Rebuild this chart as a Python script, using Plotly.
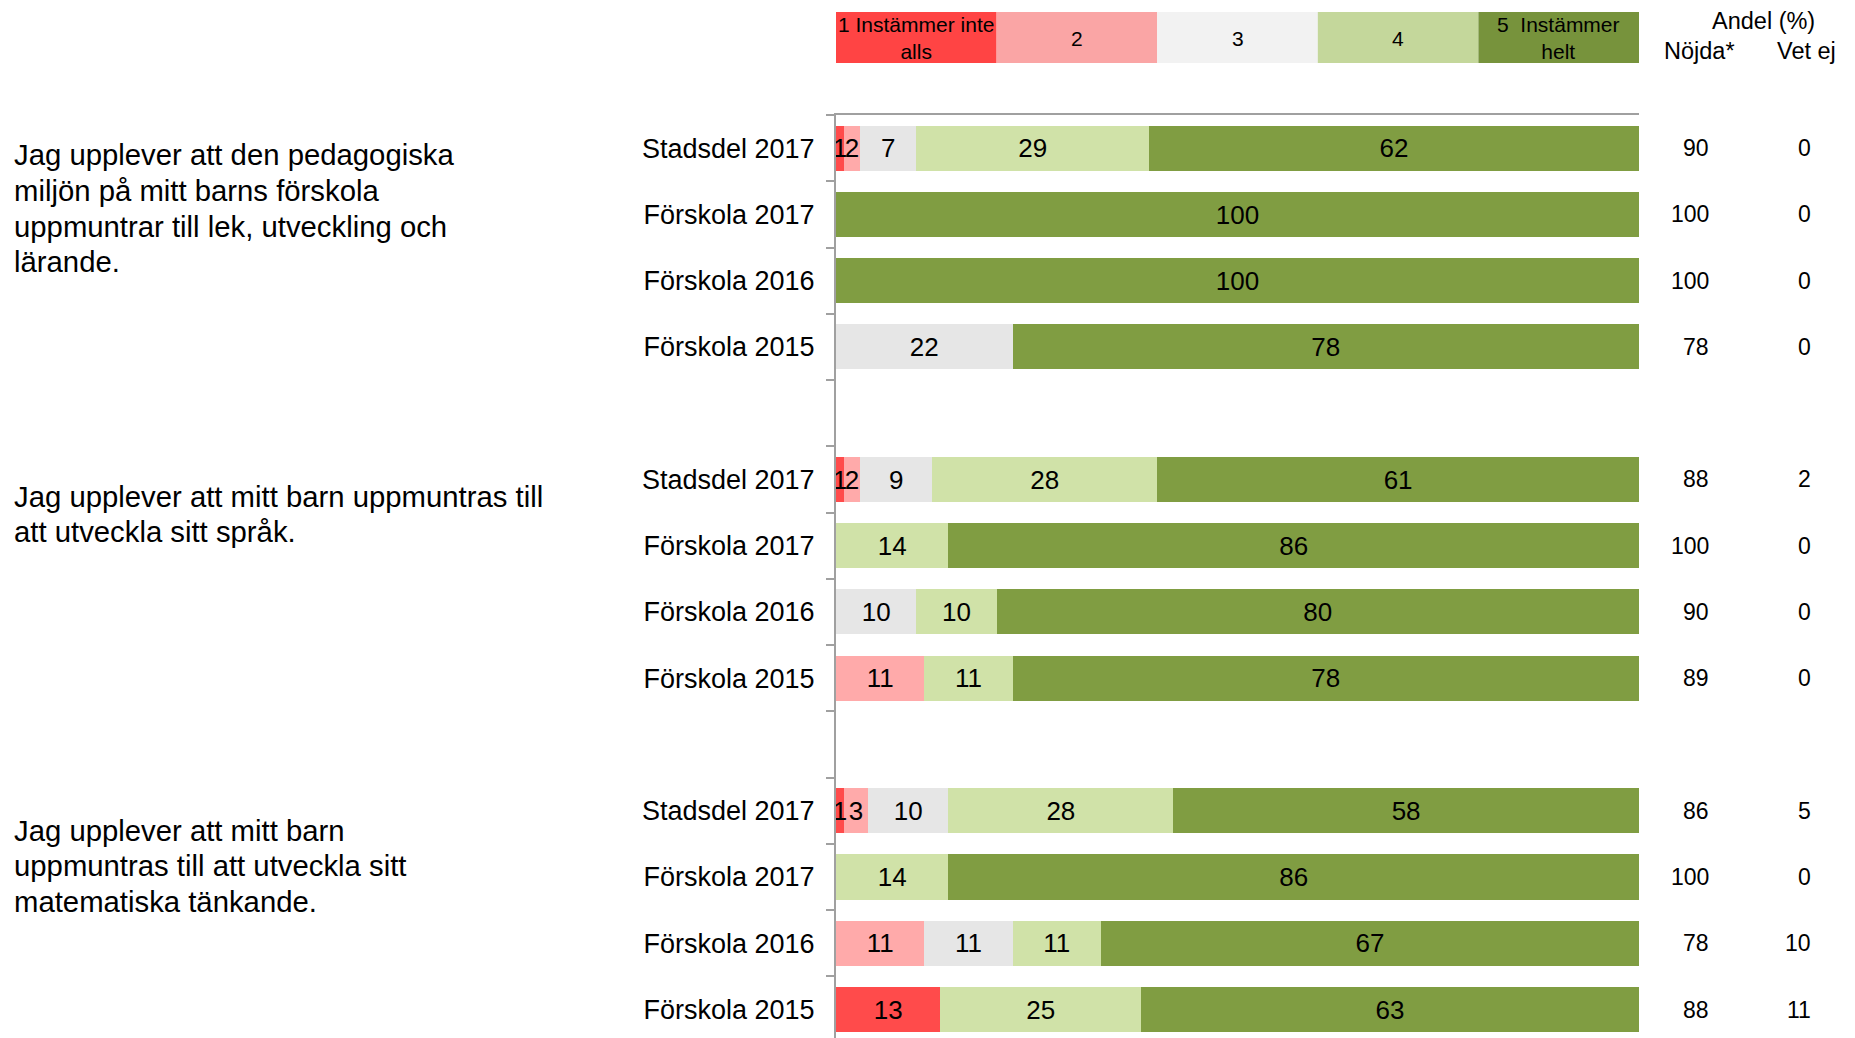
import plotly.graph_objects as go

# Survey answers per row (percent per response level 1..5)
row_labels = ["Stadsdel 2017", "Förskola 2017", "Förskola 2016", "Förskola 2015"] * 3
level_1 = [1, 0, 0, 0, 1, 0, 0, 0, 1, 0, 0, 13]
level_2 = [2, 0, 0, 0, 2, 0, 0, 11, 3, 0, 11, 0]
level_3 = [7, 0, 0, 22, 9, 0, 10, 0, 10, 0, 11, 0]
level_4 = [29, 0, 0, 0, 28, 14, 10, 11, 28, 14, 11, 25]
level_5 = [62, 100, 100, 78, 61, 86, 80, 78, 58, 86, 67, 63]
nojda = [90, 100, 100, 78, 88, 100, 90, 89, 86, 100, 78, 88]
vet_ej = [0, 0, 0, 0, 2, 0, 0, 0, 5, 0, 10, 11]

questions = [
    ["Jag upplever att den pedagogiska", "miljön på mitt barns förskola",
     "uppmuntrar till lek, utveckling och", "lärande."],
    ["Jag upplever att mitt barn uppmuntras till", "att utveckla sitt språk."],
    ["Jag upplever att mitt barn", "uppmuntras till att utveckla sitt",
     "matematiska tänkande."],
]
legend_labels = ["1 Instämmer inte<br>alls", "2", "3", "4", "5  Instämmer<br>helt"]

bar_colors = ["#FF4B4B", "#FFAAAA", "#E6E6E6", "#D0E2A8", "#809D42"]
legend_colors = ["#FF4444", "#FAA5A5", "#F2F2F2", "#C4D79B", "#77933C"]

FONT = "Liberation Sans, Arial, sans-serif"
W, H = 1855, 1038
ML, MR, MT, MB = 836, 216, 115, 0
PW, PH = W - ML - MR, H - MT - MB
X_MAX = 100

# row slots: four rows per question, one empty slot between questions
ypos = [g * 5 + i for g in range(3) for i in range(4)]


def px_x(px):
    return (px - ML) / PW


def px_y(py):
    return (H - py) / PH


fig = go.Figure()
levels = [level_1, level_2, level_3, level_4, level_5]
for k, vals in enumerate(levels):
    fig.add_trace(go.Bar(
        x=vals, y=ypos, orientation="h", width=0.68,
        marker=dict(color=bar_colors[k], line=dict(width=0)),
        hoverinfo="skip", showlegend=False,
    ))

# segment labels, centred on the visible part of each segment
TEXT_DROP = 0.04  # small downward nudge so digits sit optically centred
lab_x, lab_y, lab_t = [], [], []
for r, yp in enumerate(ypos):
    start = 0
    for vals in levels:
        v = vals[r]
        end = start + v
        if v > 0:
            lab_x.append((start + min(end, X_MAX)) / 2)
            lab_y.append(yp + TEXT_DROP)
            lab_t.append(str(v))
        start = end
fig.add_trace(go.Scatter(
    x=lab_x, y=lab_y, text=lab_t, mode="text", textposition="middle center",
    textfont=dict(family=FONT, size=26, color="black"),
    cliponaxis=False, hoverinfo="skip", showlegend=False,
))

annotations = []
shapes = []

# response scale header boxes
for k, lab in enumerate(legend_labels):
    shapes.append(dict(type="rect", xref="paper", yref="paper",
                       x0=k / 5, x1=(k + 1) / 5, y0=px_y(63), y1=px_y(12),
                       fillcolor=legend_colors[k], line=dict(width=0), layer="below"))
    annotations.append(dict(xref="paper", yref="paper", x=(k + 0.5) / 5, y=px_y(38),
                            text=lab, showarrow=False, xanchor="center", yanchor="middle",
                            font=dict(family=FONT, size=21, color="black")))

# right-hand column headers
headers = [("Andel (%)", 1763, 21), ("Nöjda*", 1699, 51), ("Vet ej", 1806, 51)]
for txt, hx, hy in headers:
    annotations.append(dict(xref="paper", yref="paper", x=px_x(hx), y=px_y(hy), text=txt,
                            showarrow=False, xanchor="center", yanchor="middle",
                            font=dict(family=FONT, size=23.5, color="black")))

# right-hand value columns
for yp, n, v in zip(ypos, nojda, vet_ej):
    annotations.append(dict(xref="paper", yref="y", x=px_x(1711), y=yp, text=str(n),
                            showarrow=False, xanchor="right", yanchor="middle",
                            font=dict(family=FONT, size=23, color="black")))
    annotations.append(dict(xref="paper", yref="y", x=px_x(1813), y=yp, text=str(v),
                            showarrow=False, xanchor="right", yanchor="middle",
                            font=dict(family=FONT, size=23, color="black")))

# question texts, one line at a time
first_line_y = [155, 496, 830]
for lines, y0 in zip(questions, first_line_y):
    for i, line in enumerate(lines):
        annotations.append(dict(xref="paper", yref="paper", x=px_x(12), y=px_y(y0 + i * 35.5),
                                text=line, showarrow=False, xanchor="left", yanchor="middle",
                                font=dict(family=FONT, size=29.3, color="black")))

fig.update_layout(
    width=W, height=H, barmode="stack",
    margin=dict(l=ML, r=MR, t=MT, b=MB, pad=0),
    paper_bgcolor="white", plot_bgcolor="white",
    font=dict(family=FONT, color="black"),
    xaxis=dict(range=[0, X_MAX], side="top", showline=True, linecolor="#A0A0A0", linewidth=2,
               showticklabels=False, ticks="", showgrid=False, zeroline=False, fixedrange=True),
    yaxis=dict(range=[13.43, -0.5], tickmode="array", tickvals=ypos, ticktext=row_labels,
               ticks="", ticklabelstandoff=14, showline=True, linecolor="#A0A0A0", linewidth=2,
               showgrid=False, zeroline=False,
               tickfont=dict(family=FONT, size=27, color="black"),
               minor=dict(tickmode="array", tickvals=[k - 0.5 for k in range(15)],
                          ticks="outside", ticklen=8, tickwidth=2, tickcolor="#A0A0A0",
                          showgrid=False)),
    annotations=annotations, shapes=shapes, bargap=0,
)

fig.write_html("out.html")
